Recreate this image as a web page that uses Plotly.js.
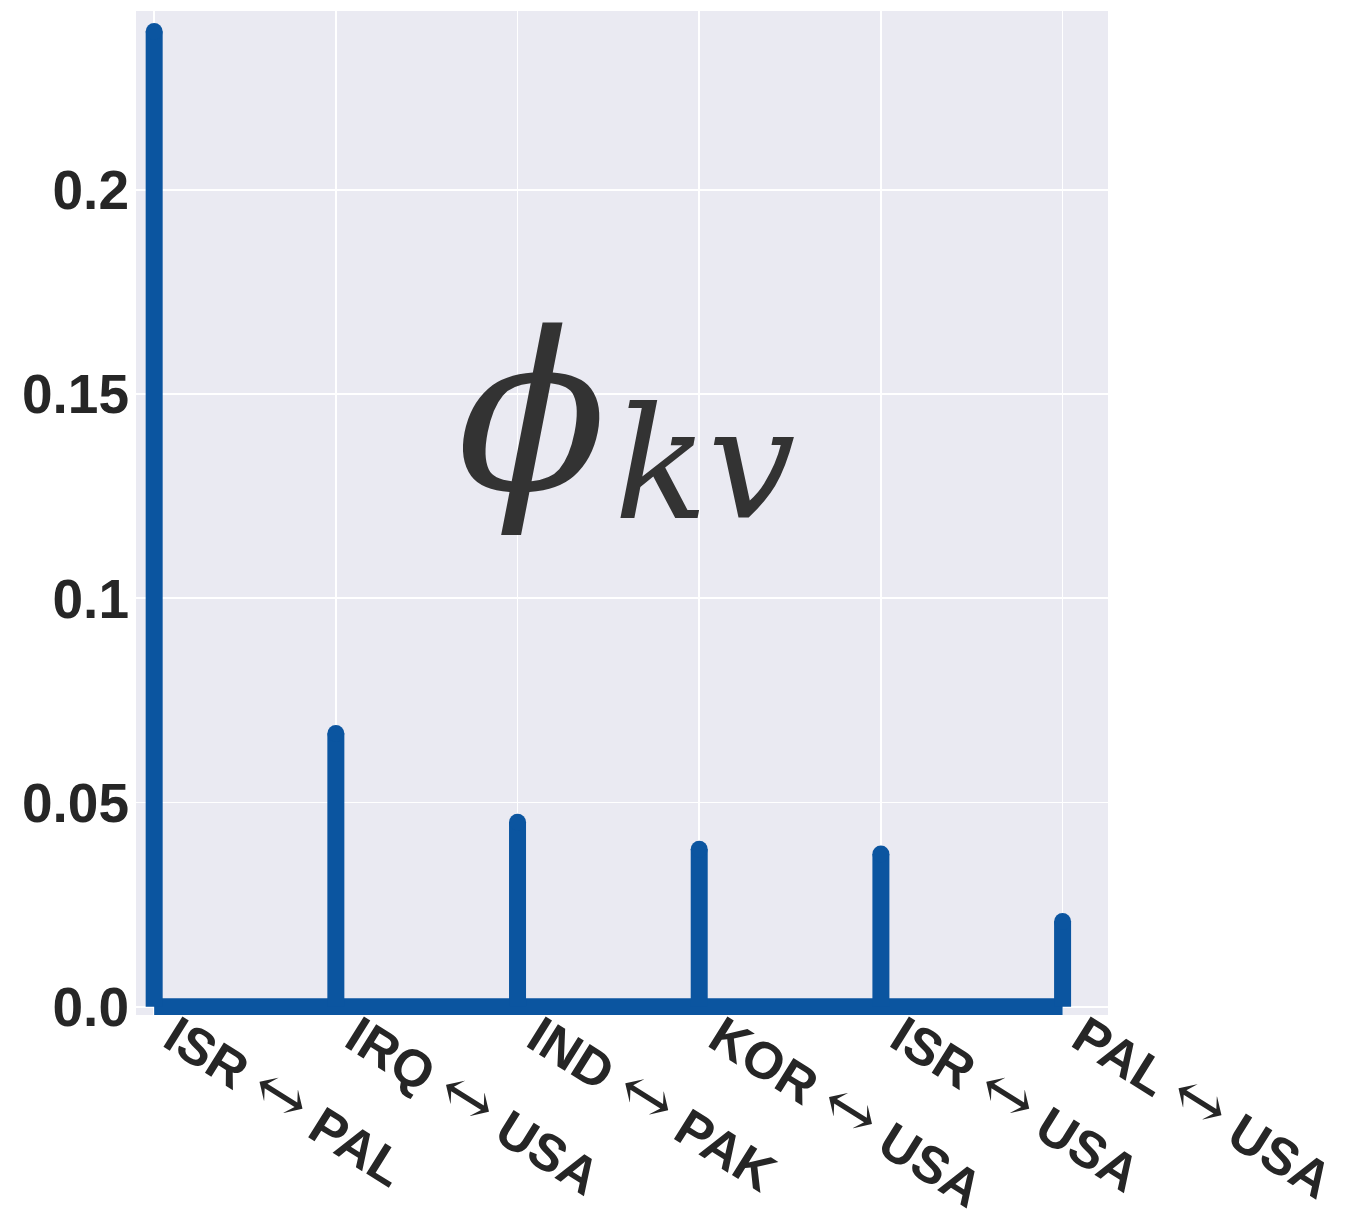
<!DOCTYPE html>
<html>
<head>
<meta charset="utf-8">
<script src="https://cdn.plot.ly/plotly-3.0.1.min.js"></script>
<style>html,body{margin:0;padding:0;background:#fff;}#chart{width:1356px;height:1218px;}</style>
</head>
<body>
<div id="chart"></div>
<script>
// ---- data ----
const pairsFrom = ["ISR", "IRQ", "IND", "KOR", "ISR", "PAL"];
const pairsTo   = ["PAL", "USA", "PAK", "USA", "USA", "USA"];
const phiValues = [0.2388, 0.0669, 0.0452, 0.0386, 0.0374, 0.0209];
const yTickVals = [0, 0.05, 0.1, 0.15, 0.2];
const yTickText = ["0.0", "0.05", "0.1", "0.15", "0.2"];

// ---- build ----
const idx = phiValues.map((_, i) => i);
const arrow = '<span style="font-weight:normal;font-family:\'DejaVu Serif\';font-size:66px">\u2194</span>';
const xTickText = pairsFrom.map((a, i) => a + " " + arrow + " " + pairsTo[i]);
const stemColor = "#0b55a0";

const stemX = [], stemY = [];
idx.forEach((i) => { stemX.push(i, i, null); stemY.push(0, phiValues[i], null); });

const traces = [
  { x: [idx[0], idx[idx.length - 1]], y: [0, 0], mode: "lines", line: { color: stemColor, width: 17 }, hoverinfo: "skip", showlegend: false },
  { x: stemX, y: stemY, mode: "lines", line: { color: stemColor, width: 17 }, hoverinfo: "skip", showlegend: false },
  { x: idx, y: phiValues, mode: "markers", marker: { color: stemColor, size: 17, line: { width: 0 } }, showlegend: false }
];

const layout = {
  width: 1356, height: 1218,
  margin: { l: 136, r: 248, t: 11, b: 203 },
  paper_bgcolor: "#ffffff",
  plot_bgcolor: "#eaeaf2",
  showlegend: false,
  xaxis: {
    range: [-0.1, 5.25],
    tickvals: idx, ticktext: xTickText,
    tickangle: 32,
    ticklabelshift: 20,
    ticklabelstandoff: -19,
    showgrid: true, gridcolor: "#ffffff", gridwidth: 1.8,
    zeroline: false, showline: false, ticks: "",
    tickfont: { family: "Liberation Sans, Arial, sans-serif", size: 52, color: "#262626", weight: "bold" }
  },
  yaxis: {
    range: [-0.002, 0.2438],
    tickvals: yTickVals, ticktext: yTickText,
    showgrid: true, gridcolor: "#ffffff", gridwidth: 1.8,
    zeroline: false, showline: false, ticks: "",
    ticklabelstandoff: 6,
    tickfont: { family: "Liberation Sans, Arial, sans-serif", size: 55, color: "#262626", weight: "bold" }
  },
  annotations: [
    { xref: "paper", yref: "paper", x: 0.407, y: 0.600, xanchor: "center", yanchor: "middle", showarrow: false,
      text: "\u03d5", font: { family: "DejaVu Serif", size: 220, color: "#333333", style: "italic" } },
    { xref: "paper", yref: "paper", x: 0.585, y: 0.548, xanchor: "center", yanchor: "middle", showarrow: false,
      text: "kv", font: { family: "DejaVu Serif", size: 155, color: "#333333", style: "italic" } }
  ]
};

Plotly.newPlot("chart", traces, layout, { displayModeBar: false, staticPlot: true });
</script>
</body>
</html>
